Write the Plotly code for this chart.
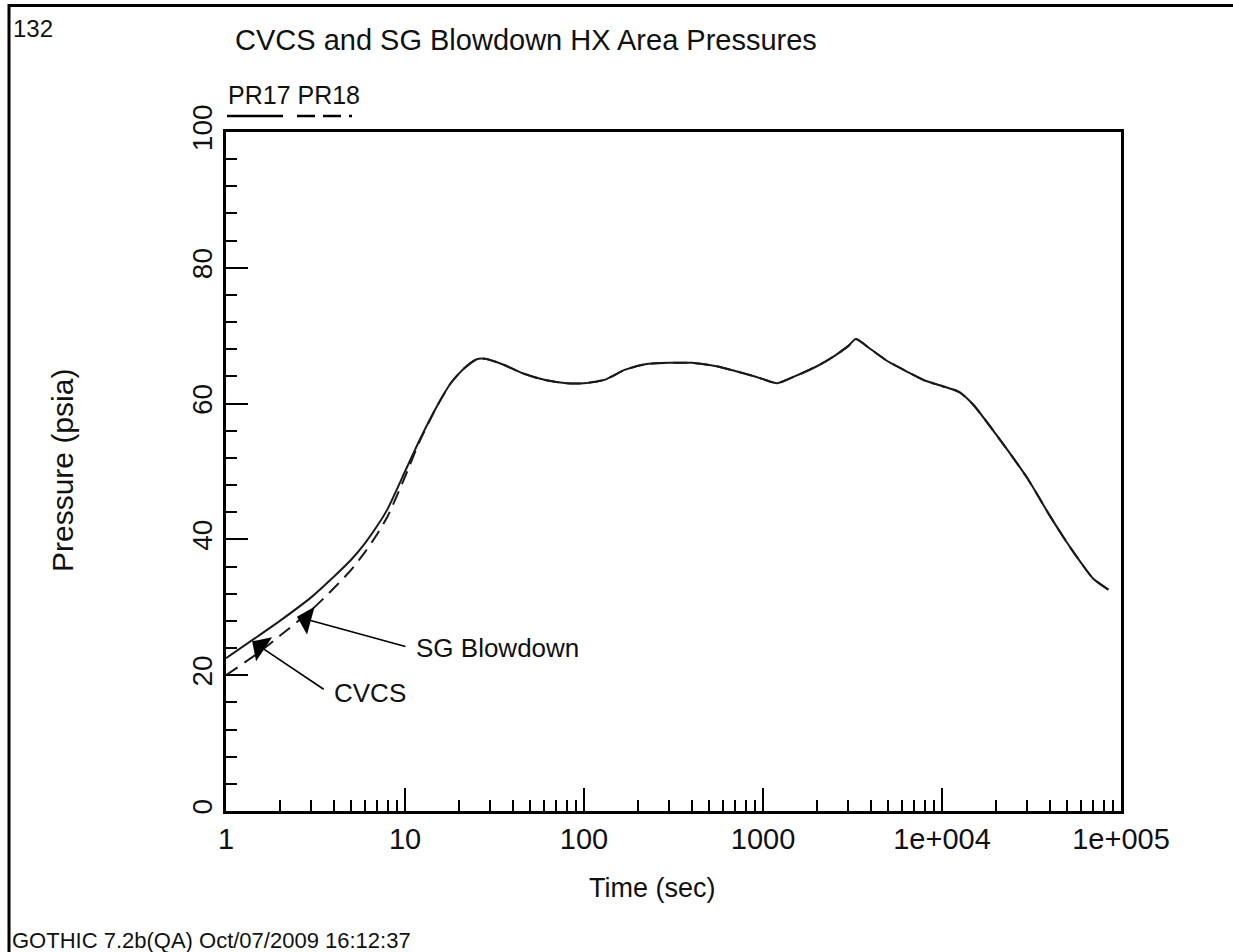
import numpy as np
import plotly.graph_objects as go

# ---------------- data ----------------
time_pr17 = [1, 1.5, 2, 3, 4, 5, 6, 7, 8, 10, 12, 15, 18, 21, 25, 28, 35, 45, 60, 80,
             100, 130, 170, 220, 300, 400, 550, 700, 900, 1000, 1200, 1500, 2000, 2500,
             3000, 3300, 4000, 5000, 6500, 8000, 10000, 12500, 15000, 20000, 30000,
             40000, 50000, 60000, 70000, 85000]
pres_pr17 = [22.5, 25.7, 28.0, 31.5, 34.5, 37.0, 39.5, 42.0, 44.5, 50.0, 54.5, 59.5, 63.0,
             65.0, 66.5, 66.6, 65.8, 64.5, 63.5, 63.0, 63.0, 63.5, 65.0, 65.8, 66.0, 66.0,
             65.5, 64.8, 64.0, 63.6, 63.0, 64.0, 65.5, 67.0, 68.5, 69.5, 68.0, 66.2, 64.6,
             63.4, 62.6, 61.7, 59.8, 55.5, 49.0, 43.5, 39.5, 36.5, 34.2, 32.6]

time_pr18 = [1, 1.5, 2, 3, 4, 5, 6, 7, 8, 10, 12]
pres_pr18 = [20.0, 23.2, 25.8, 29.6, 32.8, 35.5, 38.2, 40.8, 43.4, 49.2, 54.3]
# PR18 follows PR17 after ~12 s
time_pr18 = time_pr18 + time_pr17[11:]
pres_pr18 = pres_pr18 + pres_pr17[11:]

x_tickvals = [1, 10, 100, 1000, 10000, 100000]
x_ticktext = ["1", "10", "100", "1000", "1e+004", "1e+005"]
y_tickvals = [0, 20, 40, 60, 80, 100]

# annotation anchor points (time, pressure)
sg_tip = (2.49, 28.6)
cvcs_tip = (1.40, 25.0)

FONT = "Liberation Sans, Arial, sans-serif"
INK = "#111111"

W, H = 1233, 952
L, R, T, B = 226, 112, 132, 141
PW, PH = W - L - R, H - T - B

fig = go.Figure()
fig.add_trace(go.Scatter(x=time_pr17, y=pres_pr17, mode="lines", name="PR17",
                         line=dict(color="#1a1a1a", width=2, shape="spline", smoothing=0.6)))
fig.add_trace(go.Scatter(x=time_pr18, y=pres_pr18, mode="lines", name="PR18",
                         line=dict(color="#1a1a1a", width=2, dash="14px,8px",
                                   shape="spline", smoothing=0.6)))

fig.update_layout(
    width=W, height=H,
    margin=dict(l=L, r=R, t=T, b=B),
    paper_bgcolor="white", plot_bgcolor="white",
    showlegend=False,
    font=dict(family=FONT, color=INK),
)

fig.update_xaxes(
    type="log", range=[0, 5],
    tickvals=x_tickvals, ticktext=x_ticktext,
    ticks="inside", ticklen=23, tickwidth=2, tickcolor="black",
    minor=dict(ticks="inside", ticklen=11, tickwidth=2, tickcolor="black", dtick="D1"),
    showline=True, linewidth=2.5, linecolor="black", mirror=True,
    showgrid=False, zeroline=False,
    tickfont=dict(size=29, family=FONT, color=INK),
)
fig.update_yaxes(
    range=[0, 100],
    tickvals=y_tickvals, tickangle=-90,
    ticks="inside", ticklen=22, tickwidth=2, tickcolor="black",
    minor=dict(ticks="inside", ticklen=11, tickwidth=2, tickcolor="black", dtick=4),
    showline=True, linewidth=2.5, linecolor="black", mirror=True,
    showgrid=False, zeroline=False,
    tickfont=dict(size=28, family=FONT, color=INK),
)

def px_x(p):
    return (p - L) / PW

def px_y(p):
    return (H - B - p) / PH

annots = [
    dict(text="132", x=px_x(11), y=px_y(28), xanchor="left", yanchor="middle", size=24),
    dict(text="CVCS and SG Blowdown HX Area Pressures", x=px_x(233), y=px_y(40),
         xanchor="left", yanchor="middle", size=29),
    dict(text="PR17 PR18", x=px_x(226), y=px_y(95), xanchor="left", yanchor="middle", size=25),
    dict(text="Time (sec)", x=px_x(652), y=px_y(888), xanchor="center", yanchor="middle", size=27),
    dict(text="GOTHIC 7.2b(QA) Oct/07/2009 16:12:37", x=px_x(10), y=px_y(940),
         xanchor="left", yanchor="middle", size=22),
]
for a in annots:
    fig.add_annotation(text=a["text"], xref="paper", yref="paper", x=a["x"], y=a["y"],
                       xanchor=a["xanchor"], yanchor=a["yanchor"], showarrow=False,
                       font=dict(size=a["size"], family=FONT, color=INK))

fig.add_annotation(text="Pressure (psia)", xref="paper", yref="paper",
                   x=px_x(62), y=px_y(471), textangle=-90, showarrow=False,
                   xanchor="center", yanchor="middle",
                   font=dict(size=30, family=FONT, color=INK))

# curve labels
fig.add_annotation(text="SG Blowdown", xref="paper", yref="paper", x=px_x(414), y=px_y(648),
                   xanchor="left", yanchor="middle", showarrow=False,
                   font=dict(size=26, family=FONT, color=INK))
fig.add_annotation(text="CVCS", xref="paper", yref="paper", x=px_x(332), y=px_y(693),
                   xanchor="left", yanchor="middle", showarrow=False,
                   font=dict(size=26, family=FONT, color=INK))

# arrows
fig.add_annotation(x=np.log10(sg_tip[0]), y=sg_tip[1], xref="x", yref="y",
                   ax=110, ay=30, axref="pixel", ayref="pixel", text="",
                   showarrow=True, arrowhead=1, arrowsize=3, arrowwidth=1.6,
                   arrowcolor="black", standoff=0)
fig.add_annotation(x=np.log10(cvcs_tip[0]), y=cvcs_tip[1], xref="x", yref="y",
                   ax=73, ay=49, axref="pixel", ayref="pixel", text="",
                   showarrow=True, arrowhead=1, arrowsize=3, arrowwidth=1.6,
                   arrowcolor="black", standoff=0)

# legend samples
fig.add_shape(type="line", xref="paper", yref="paper",
              x0=px_x(227), x1=px_x(283), y0=px_y(116), y1=px_y(116),
              line=dict(color="black", width=2.5))
fig.add_shape(type="line", xref="paper", yref="paper",
              x0=px_x(297), x1=px_x(357), y0=px_y(116), y1=px_y(116),
              line=dict(color="black", width=2.5, dash="18px,8px,18px,8px,3px"))

# outer frame
fig.add_shape(type="rect", xref="paper", yref="paper",
              x0=px_x(9), x1=px_x(1260), y0=px_y(5.5), y1=px_y(990),
              line=dict(color="black", width=3), layer="above")

fig.write_html("out.html")
